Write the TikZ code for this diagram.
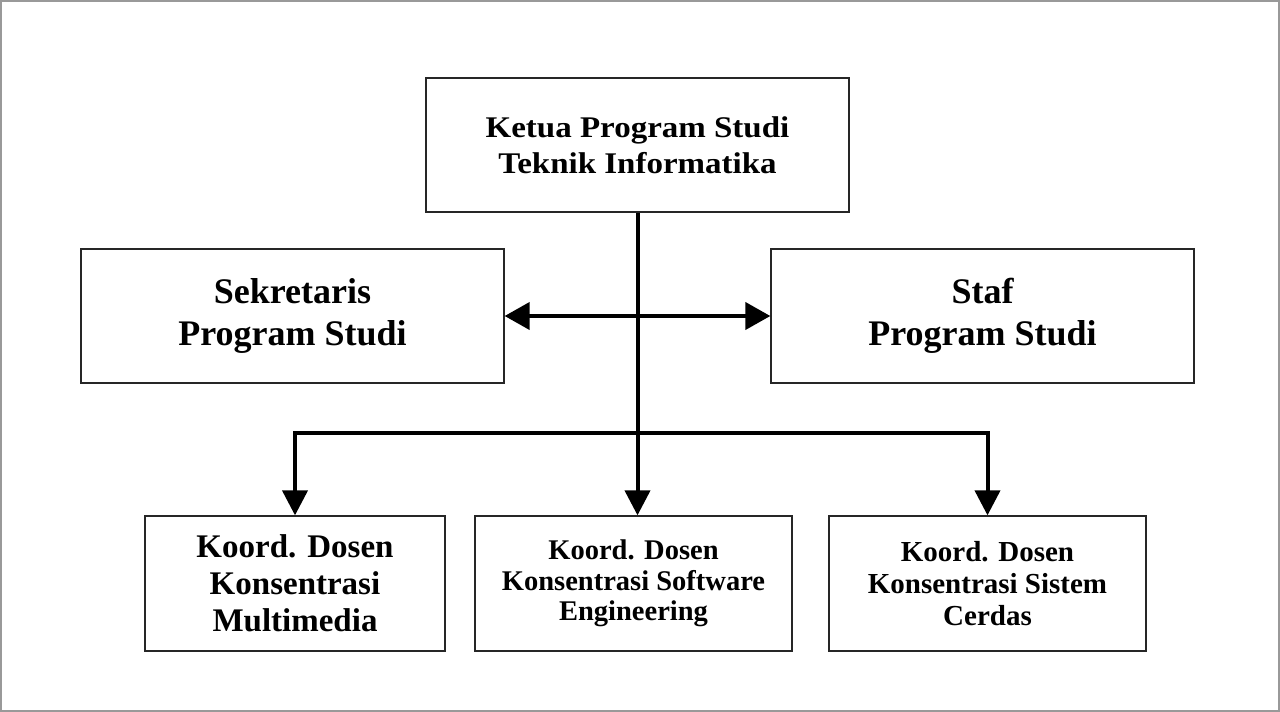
\documentclass[tikz,border=0pt]{standalone}
\usepackage{fontspec}
\setmainfont{Liberation Serif}
\newfontfamily\widefont{Liberation Serif}[FakeStretch=1.1]
\usepackage{tikz}
\usetikzlibrary{arrows.meta,positioning,calc}
\tikzstyle{box} = [draw=black!85,line width=1.3pt,align=center,inner sep=0pt,font=\bfseries]
\tikzstyle{arrow} = [line width=4pt,-{Triangle[length=25pt,width=25pt]}]
\tikzstyle{arrowboth} = [line width=4pt,{Triangle[length=25pt,width=27pt]}-{Triangle[length=25pt,width=27pt]}]

\begin{document}
\begin{tikzpicture}[x=1pt,y=-1pt]

			% frame
			\useasboundingbox (0,0) rectangle (1280,712);
			\draw[gray!80,line width=2pt] (1,1) rectangle (1279,711);

			\node[box,minimum width=423pt,minimum height=134pt,
			font=\widefont\bfseries\fontsize{30}{36}\selectfont
			] (ketua) at (637.5,145) {Ketua Program Studi \\ Teknik Informatika};

			\node[box,minimum width=423pt,minimum height=134pt,
			font=\bfseries\fontsize{36}{42}\selectfont
			] (sekretaris) at (292.5,316) {Sekretaris \\ Program Studi};

			\node[box,minimum width=423pt,minimum height=134pt,
			font=\bfseries\fontsize{36}{42}\selectfont
			] (staf) at (982.5,316) {Staf \\ Program Studi};

			\node[box,minimum width=300pt,minimum height=135pt,
			font=\bfseries\fontsize{33}{37}\selectfont
			] (multimedia) at (295,583.5) {Koord. Dosen \\ Konsentrasi \\ Multimedia};

			\node[box,minimum width=317pt,minimum height=135pt,
			font=\bfseries\fontsize{28.5}{30.5}\selectfont
			] (software) at (633.5,583.5) {Koord. Dosen \\ Konsentrasi Software \\ Engineering};

			\node[box,minimum width=317pt,minimum height=135pt,
			font=\bfseries\fontsize{29}{32}\selectfont
			] (cerdas) at (987.5,583.5) {Koord. Dosen \\ Konsentrasi Sistem \\ Cerdas};

			\coordinate (bar) at ($(ketua.south)+(0,220)$);

			% Arrows
			\draw[arrow] (ketua.south) -- (ketua.south |- software.north);
			\draw[arrowboth] (sekretaris.east) -- (staf.west);
			\draw[arrow] (bar) -| (multimedia.north);
			\draw[arrow] (bar) -| (cerdas.north);
		\end{tikzpicture}
\end{document}
